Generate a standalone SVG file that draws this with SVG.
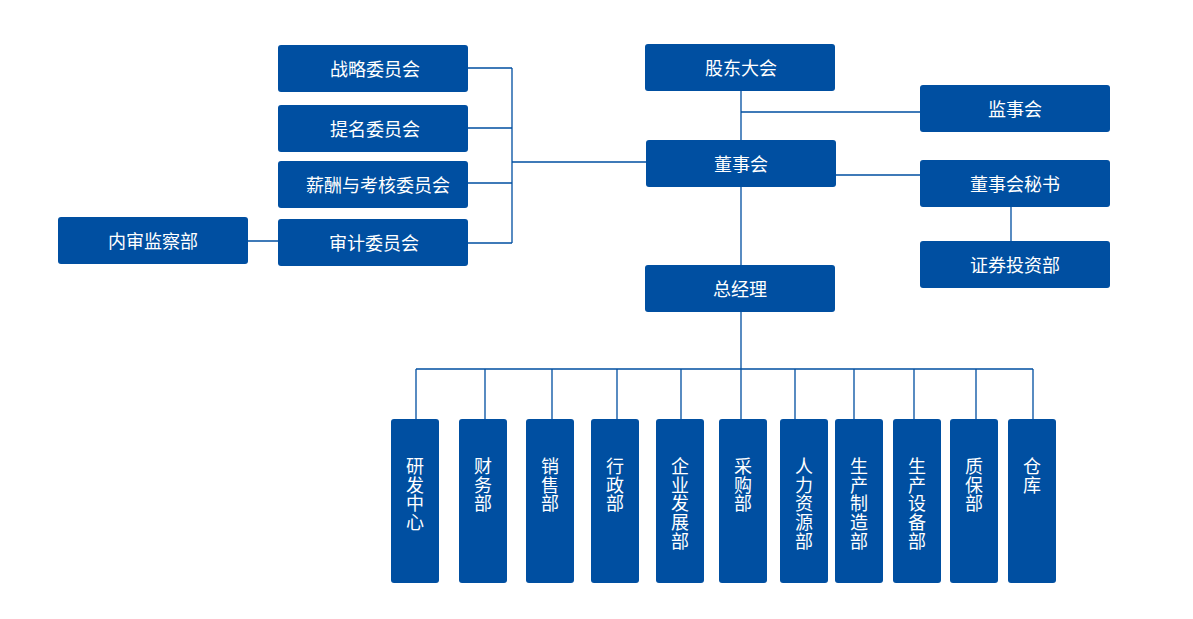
<svg xmlns="http://www.w3.org/2000/svg" width="1193" height="619" viewBox="0 0 1193 619">
<style>
.b{fill:#004FA1}
.t{fill:#fff;font-family:"Noto Sans CJK SC","Noto Sans",sans-serif;font-size:18px;text-anchor:middle;dominant-baseline:central}
.c{fill:none;stroke:#004FA1;stroke-width:1.3}
</style>
<rect width="1193" height="619" fill="#fff"/>
<g id="connectors">
<path class="c" d="M741 91V140M741 112H920M836 175H920M1011 207V241M741 187V265"/>
<path class="c" d="M468 68H512M468 128H512M468 183H512M468 243H512M512 68V243M512 162H646M248 241H278"/>
<path class="c" d="M741 312V369M416 369H1033M416 369V419M485 369V419M552 369V419M617 369V419M681 369V419M741 369V419M795 369V419M854 369V419M914 369V419M976 369V419M1033 369V419"/>
</g>
<g id="n-gudong"><rect class="b" x="645" y="44" width="190" height="47" rx="3"/><text class="t" x="741" y="66.5">股东大会</text></g>
<g id="n-jianshi"><rect class="b" x="920" y="85" width="190" height="47" rx="3"/><text class="t" x="1015" y="107.5">监事会</text></g>
<g id="n-dongshi"><rect class="b" x="646" y="140" width="190" height="47" rx="3"/><text class="t" x="741" y="162.5">董事会</text></g>
<g id="n-mishu"><rect class="b" x="920" y="160" width="190" height="47" rx="3"/><text class="t" x="1015" y="182.5">董事会秘书</text></g>
<g id="n-zhengquan"><rect class="b" x="920" y="241" width="190" height="47" rx="3"/><text class="t" x="1015" y="263.5">证券投资部</text></g>
<g id="n-zongjingli"><rect class="b" x="645" y="265" width="190" height="47" rx="3"/><text class="t" x="740" y="287.5">总经理</text></g>
<g id="n-zhanlue"><rect class="b" x="278" y="45" width="190" height="47" rx="3"/><text class="t" x="375" y="67.5">战略委员会</text></g>
<g id="n-timing"><rect class="b" x="278" y="105" width="190" height="47" rx="3"/><text class="t" x="375" y="127.5">提名委员会</text></g>
<g id="n-xinchou"><rect class="b" x="278" y="161" width="190" height="47" rx="3"/><text class="t" x="378" y="183.5">薪酬与考核委员会</text></g>
<g id="n-shenji"><rect class="b" x="278" y="219" width="190" height="47" rx="3"/><text class="t" x="374" y="241.5">审计委员会</text></g>
<g id="n-neishen"><rect class="b" x="58" y="217" width="190" height="47" rx="3"/><text class="t" x="153" y="239.5">内审监察部</text></g>
<g id="n-yanfa"><rect class="b" x="391" y="419" width="48" height="164" rx="3"/><text class="t" y="465"><tspan x="415">研</tspan><tspan x="415" dy="18.7">发</tspan><tspan x="415" dy="18.7">中</tspan><tspan x="415" dy="18.7">心</tspan></text></g>
<g id="n-caiwu"><rect class="b" x="459" y="419" width="48" height="164" rx="3"/><text class="t" y="465"><tspan x="483">财</tspan><tspan x="483" dy="18.7">务</tspan><tspan x="483" dy="18.7">部</tspan></text></g>
<g id="n-xiaoshou"><rect class="b" x="526" y="419" width="48" height="164" rx="3"/><text class="t" y="465"><tspan x="550">销</tspan><tspan x="550" dy="18.7">售</tspan><tspan x="550" dy="18.7">部</tspan></text></g>
<g id="n-xingzheng"><rect class="b" x="591" y="419" width="48" height="164" rx="3"/><text class="t" y="465"><tspan x="615">行</tspan><tspan x="615" dy="18.7">政</tspan><tspan x="615" dy="18.7">部</tspan></text></g>
<g id="n-qiye"><rect class="b" x="656" y="419" width="48" height="164" rx="3"/><text class="t" y="465"><tspan x="680">企</tspan><tspan x="680" dy="18.7">业</tspan><tspan x="680" dy="18.7">发</tspan><tspan x="680" dy="18.7">展</tspan><tspan x="680" dy="18.7">部</tspan></text></g>
<g id="n-caigou"><rect class="b" x="719" y="419" width="48" height="164" rx="3"/><text class="t" y="465"><tspan x="743">采</tspan><tspan x="743" dy="18.7">购</tspan><tspan x="743" dy="18.7">部</tspan></text></g>
<g id="n-renli"><rect class="b" x="780" y="419" width="48" height="164" rx="3"/><text class="t" y="465"><tspan x="804">人</tspan><tspan x="804" dy="18.7">力</tspan><tspan x="804" dy="18.7">资</tspan><tspan x="804" dy="18.7">源</tspan><tspan x="804" dy="18.7">部</tspan></text></g>
<g id="n-zhizao"><rect class="b" x="835" y="419" width="48" height="164" rx="3"/><text class="t" y="465"><tspan x="859">生</tspan><tspan x="859" dy="18.7">产</tspan><tspan x="859" dy="18.7">制</tspan><tspan x="859" dy="18.7">造</tspan><tspan x="859" dy="18.7">部</tspan></text></g>
<g id="n-shebei"><rect class="b" x="893" y="419" width="48" height="164" rx="3"/><text class="t" y="465"><tspan x="917">生</tspan><tspan x="917" dy="18.7">产</tspan><tspan x="917" dy="18.7">设</tspan><tspan x="917" dy="18.7">备</tspan><tspan x="917" dy="18.7">部</tspan></text></g>
<g id="n-zhibao"><rect class="b" x="950" y="419" width="48" height="164" rx="3"/><text class="t" y="465"><tspan x="974">质</tspan><tspan x="974" dy="18.7">保</tspan><tspan x="974" dy="18.7">部</tspan></text></g>
<g id="n-cangku"><rect class="b" x="1008" y="419" width="48" height="164" rx="3"/><text class="t" y="465"><tspan x="1032">仓</tspan><tspan x="1032" dy="18.7">库</tspan></text></g>
</svg>
